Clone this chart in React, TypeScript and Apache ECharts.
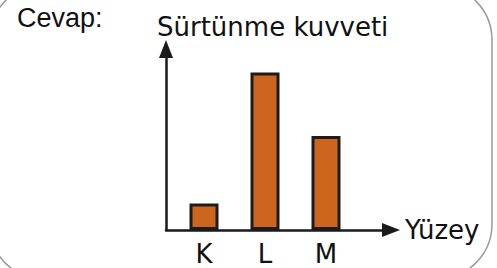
import React, { useEffect, useRef } from "react";
import * as echarts from "echarts";

const categories = ["K", "L", "M"];
const frictionValues = [1.46, 8.7, 5.2];
const yMax = 10;
const answerLabel = "Cevap:";
const yAxisTitle = "Sürtünme kuvveti";
const xAxisTitle = "Yüzey";

export default function App() {
  const ref = useRef<HTMLDivElement>(null);
  useEffect(() => {
    if (!ref.current) return;
    const chart = echarts.init(ref.current, null, { renderer: "svg" });
    const axisColor = "#1a1a1a";
    chart.setOption({
      animation: false,
      backgroundColor: "#ffffff",
      title: {
        text: yAxisTitle,
        left: 157,
        top: 14,
        padding: 0,
        textStyle: { fontFamily: "DejaVu Sans", fontSize: 26, fontWeight: "normal", color: "#111" },
      },
      grid: [
        { left: 166, right: 106, top: 49, bottom: 38 },
        { left: 173.5, width: 183, top: 49, bottom: 38 },
      ],
      xAxis: [
        {
          gridIndex: 0,
          type: "value",
          min: 0,
          max: 1,
          axisLine: {
            show: true,
            symbol: ["none", "triangle"],
            symbolSize: [14, 18],
            lineStyle: { color: axisColor, width: 2.5 },
          },
          axisTick: { show: false },
          axisLabel: { show: false },
          splitLine: { show: false },
          name: xAxisTitle,
          nameLocation: "end",
          nameGap: 14,
          nameTextStyle: { fontFamily: "DejaVu Sans", fontSize: 26, color: "#111", verticalAlign: "middle", align: "left" },
        },
        {
          gridIndex: 1,
          type: "category",
          data: categories,
          axisLine: { show: false },
          axisTick: { show: false },
          axisLabel: { margin: 11, fontFamily: "DejaVu Sans", fontSize: 26, color: "#111" },
        },
      ],
      yAxis: [
        {
          gridIndex: 0,
          type: "value",
          min: 0,
          max: yMax,
          axisLine: {
            show: true,
            symbol: ["none", "triangle"],
            symbolSize: [14, 18],
            lineStyle: { color: axisColor, width: 2.5 },
          },
          axisTick: { show: false },
          axisLabel: { show: false },
          splitLine: { show: false },
        },
        {
          gridIndex: 1,
          type: "value",
          min: 0,
          max: yMax,
          show: false,
          splitLine: { show: false },
        },
      ],
      series: [
        {
          type: "bar",
          xAxisIndex: 1,
          yAxisIndex: 1,
          data: frictionValues,
          barWidth: 29,
          itemStyle: { color: "#CD651F", borderColor: "#1c1c1c", borderWidth: 3 },
          z: 1,
        },
      ],
      graphic: [
        {
          type: "rect",
          shape: { x: -11, y: -15, width: 503, height: 294, r: 55 },
          style: { fill: "none", stroke: "#9a9a9a", lineWidth: 1.5 },
          silent: true,
        },
        {
          type: "text",
          x: 17,
          y: 18,
          style: {
            text: answerLabel,
            fontFamily: "Liberation Sans",
            fontSize: 27,
            fill: "#111",
            textVerticalAlign: "middle",
            verticalAlign: "middle",
          },
        },
      ],
    });
    return () => chart.dispose();
  }, []);
  return (
    <div style={{ position: "fixed", left: 0, top: 0 }}>
      <div ref={ref} style={{ width: 497, height: 268 }} />
    </div>
  );
}
